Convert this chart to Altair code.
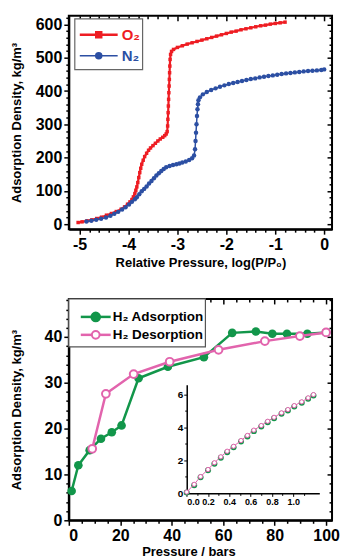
import altair as alt
import pandas as pd

FONT = "Liberation Sans"
RED = "#ee1d23"
BLUE = "#2c4fa3"
GREEN = "#12964a"
PINK = "#e264ad"

# ---------------- top panel: O2 / N2 isotherms ----------------
o2_logp = [-5.03, -4.95, -4.85, -4.75, -4.65, -4.55, -4.45, -4.35, -4.25, -4.15,
           -4.08, -4.02, -3.97, -3.93, -3.90, -3.87, -3.85, -3.83, -3.81, -3.79,
           -3.77, -3.75, -3.73, -3.70, -3.67, -3.63, -3.59, -3.55, -3.50, -3.45,
           -3.40, -3.35, -3.30, -3.26, -3.23, -3.21, -3.20, -3.195, -3.19, -3.185,
           -3.18, -3.175, -3.17, -3.165, -3.16, -3.155, -3.15, -3.14, -3.12, -3.08,
           -3.0, -2.9, -2.8, -2.7, -2.6, -2.5, -2.4, -2.3, -2.2, -2.1,
           -2.0, -1.9, -1.8, -1.7, -1.6, -1.5, -1.4, -1.3, -1.2, -1.1,
           -1.0, -0.9, -0.8]
o2_dens = [5, 7, 10, 13, 17, 21, 27, 32, 38, 45,
           52, 60, 67, 74, 82, 92, 102, 112, 125, 140,
           155, 168, 180, 192, 203, 213, 222, 229, 236, 243,
           250, 256, 261, 266, 271, 278, 295, 315, 335, 355,
           375, 395, 415, 435, 455, 475, 495, 510, 519, 525,
           531, 536, 541, 545, 549, 553, 557, 561, 565, 569,
           573, 577, 580, 584, 587, 590, 593, 596, 598, 601,
           603, 605, 607]

n2_logp = [-4.86, -4.76, -4.66, -4.56, -4.46, -4.37, -4.29, -4.21, -4.13, -4.06,
           -3.99, -3.93, -3.87, -3.83, -3.78, -3.73, -3.68, -3.63, -3.58, -3.53,
           -3.48, -3.43, -3.38, -3.33, -3.28, -3.23, -3.16, -3.09, -3.02, -2.96,
           -2.90, -2.83, -2.76, -2.70, -2.66, -2.64, -2.63, -2.62, -2.61, -2.60,
           -2.59, -2.58, -2.57, -2.54, -2.48, -2.40, -2.31, -2.22, -2.13, -2.04,
           -1.95, -1.86, -1.77, -1.68, -1.59, -1.50, -1.41, -1.32, -1.23, -1.14,
           -1.05, -0.96, -0.87, -0.78, -0.69, -0.60, -0.51, -0.42, -0.33, -0.24,
           -0.15, -0.06, 0.0]
n2_dens = [8, 10, 13, 16, 20, 25, 31, 37, 44, 51,
           59, 67, 75, 81, 90, 99, 106, 113, 122, 130,
           138, 146, 153, 160, 166, 171, 175, 178, 180, 182,
           185, 188, 193, 198, 206, 225, 250, 275, 300, 325,
           345, 360, 372, 381, 390, 397, 403, 408, 413, 417,
           421, 424, 427, 430, 433, 436, 438, 441, 443, 445,
           447, 449, 451, 453, 454, 456, 457, 459, 460, 461,
           462, 463, 465]

# ---------------- bottom panel: H2 ----------------
h2_ads_p = [1.1, 3.7, 8.1, 12.5, 16.7, 20.5, 27.1, 38.5, 52.5, 63.5, 72.7, 79.1, 84.8, 92.7, 100.0]
h2_ads_d = [6.4, 12.0, 15.3, 17.8, 19.2, 20.7, 31.0, 33.5, 35.6, 40.9, 41.2, 40.7, 40.7, 40.7, 41.0]
h2_des_p = [9.1, 14.4, 25.2, 39.2, 58.2, 76.2, 89.8, 100.0]
h2_des_d = [15.6, 27.6, 31.9, 34.6, 37.2, 39.1, 40.2, 41.0]

# inset (low pressure)
ins_p = [0.0, 0.07, 0.13, 0.2, 0.26, 0.32, 0.38, 0.44, 0.51, 0.57,
         0.63, 0.70, 0.76, 0.82, 0.89, 0.95, 1.01, 1.08, 1.14, 1.19]
ins_ads = [0.05, 0.5, 0.98, 1.4, 1.8, 2.17, 2.5, 2.8, 3.15, 3.46,
           3.78, 4.06, 4.32, 4.56, 4.83, 5.03, 5.27, 5.5, 5.75, 5.95]
ins_des = [0.08, 0.55, 1.02, 1.45, 1.86, 2.22, 2.56, 2.86, 3.21, 3.52,
           3.84, 4.12, 4.38, 4.62, 4.89, 5.09, 5.33, 5.56, 5.8, 6.0]

top_legend = ["O₂", "N₂"]
bottom_legend = ["H₂ Adsorption", "H₂ Desorption"]
y_title = "Adsorption Density, kg/m³"
top_x_title = "Relative Pressure, log(P/P₀)"
bottom_x_title = "Pressure / bars"

# tick values (major / minor)
top_x_major = [-5, -4, -3, -2, -1, 0]
top_x_minor = [round(-5 + 0.2 * i, 1) for i in range(26) if i % 5 != 0]
top_y_major = [0, 100, 200, 300, 400, 500, 600]
top_y_minor = [20 * i for i in range(32) if i % 5 != 0]
bot_x_major = [0, 20, 40, 60, 80, 100]
bot_x_minor = [5 * i for i in range(21) if i % 4 != 0]
bot_y_major = [0, 10, 20, 30, 40]
bot_y_minor = [2 * i for i in range(25) if i % 5 != 0]
ins_x_major = [0.0, 0.2, 0.4, 0.6, 0.8, 1.0]
ins_x_minor = [0.1, 0.3, 0.5, 0.7, 0.9, 1.1]
ins_y_major = [0, 2, 4, 6]
ins_y_minor = [1, 3, 5]

W, H1, H2 = 264, 214, 222
IX0, IX1 = 120.5 * W / 269, 256 * W / 269


def frame(x, y):
    return pd.DataFrame({"x": x, "y": y, "i": list(range(len(x)))})


def axis_layer(d, xsc, ysc, ch, **ax_kw):
    base = dict(grid=False, minExtent=0, maxExtent=0, labels=False, domain=False, title=None)
    base.update(ax_kw)
    ax = alt.Axis(**base)
    if ch == "x":
        enc = dict(x=alt.X("x:Q", scale=xsc, axis=ax), y=alt.Y("y:Q", scale=ysc, axis=None))
    else:
        enc = dict(x=alt.X("x:Q", scale=xsc, axis=None), y=alt.Y("y:Q", scale=ysc, axis=ax))
    return alt.Chart(d).mark_point(opacity=0).encode(**enc)


def panel_axes(d, xsc, ysc, xmaj, xmin, ymaj, ymin, xtitle, ytitle, xkw):
    return [
        axis_layer(d, xsc, ysc, "x", orient="bottom", values=xmin, tickSize=3),
        axis_layer(d, xsc, ysc, "y", orient="left", values=ymin, tickSize=3),
        axis_layer(d, xsc, ysc, "x", orient="top", values=xmaj, tickSize=5, offset=-5),
        axis_layer(d, xsc, ysc, "x", orient="top", values=xmin, tickSize=3, offset=-3),
        axis_layer(d, xsc, ysc, "y", orient="right", values=ymaj, tickSize=5, offset=-5),
        axis_layer(d, xsc, ysc, "y", orient="right", values=ymin, tickSize=3, offset=-3),
        axis_layer(d, xsc, ysc, "x", orient="bottom", values=xmaj, tickSize=5, labels=True, domain=True,
                   labelExpr="'' + datum.value", labelPadding=2, title=xtitle, minExtent=20,
                   maxExtent=200, **xkw),
        axis_layer(d, xsc, ysc, "y", orient="left", values=ymaj, tickSize=5, labels=True, domain=True,
                   labelExpr="'' + datum.value", labelPadding=2, title=ytitle, titlePadding=8,
                   minExtent=37, maxExtent=37),
    ]


one = pd.DataFrame({"k": [0]})


def box(x1, x2, y1, y2, stroke):
    return alt.Chart(one).mark_rect(fill="white", stroke=stroke, strokeWidth=1.2).encode(
        x=alt.value(x1), x2=alt.value(x2), y=alt.value(y1), y2=alt.value(y2))


def legend_row(yy, x1, x2, xm, xt, color, shape, fill, size, label, fsize, tcolor, lw):
    line = alt.Chart(one).mark_rule(color=color, strokeWidth=lw).encode(
        x=alt.value(x1), x2=alt.value(x2), y=alt.value(yy))
    pt = alt.Chart(one).mark_point(shape=shape, filled=True, fill=fill, stroke=color, strokeWidth=2,
                                    size=size, opacity=1).encode(x=alt.value(xm), y=alt.value(yy))
    txt = alt.Chart(one).mark_text(align="left", baseline="middle", font=FONT, fontWeight="bold",
                                   fontSize=fsize, color=tcolor, text=label).encode(
        x=alt.value(xt), y=alt.value(yy))
    return [line, pt, txt]


def series(d, xsc, ysc):
    return dict(x=alt.X("x:Q", scale=xsc, axis=None), y=alt.Y("y:Q", scale=ysc, axis=None))


# ================= top panel =================
o2 = frame(o2_logp, o2_dens)
n2 = frame(n2_logp, n2_dens)
xs1 = alt.Scale(domain=[-5.22, 0.16], nice=False, zero=False)
ys1 = alt.Scale(domain=[-15, 626], nice=False, zero=False)

o2_line = alt.Chart(o2).mark_line(color=RED, strokeWidth=2.2).encode(order="i:Q", **series(o2, xs1, ys1))
o2_pts = alt.Chart(o2).mark_square(color=RED, size=12, opacity=1).encode(x="x:Q", y="y:Q")
n2_line = alt.Chart(n2).mark_line(color=BLUE, strokeWidth=1.5).encode(x="x:Q", y="y:Q", order="i:Q")
n2_pts = alt.Chart(n2).mark_circle(color=BLUE, size=20, opacity=1).encode(x="x:Q", y="y:Q")

top_inner = [o2_line, o2_pts, n2_line, n2_pts, box(6, 74, 3, 54, "#666666")]
top_inner += legend_row(19, 11, 49, 30, 53, RED, "square", RED, 30, top_legend[0], 15, RED, 2.5)
top_inner += legend_row(40, 11, 49, 30, 53, BLUE, "circle", BLUE, 30, top_legend[1], 15, BLUE, 1.5)
top_main = alt.layer(*top_inner)

top = alt.layer(
    top_main,
    *panel_axes(o2, xs1, ys1, top_x_major, top_x_minor, top_y_major, top_y_minor,
                top_x_title, y_title, dict(titlePadding=4))
).resolve_scale(x="independent", y="independent").properties(width=W, height=H1)

# ================= bottom panel =================
ads = frame(h2_ads_p, h2_ads_d)
des = frame(h2_des_p, h2_des_d)
ia = frame(ins_p, ins_ads)
idd = frame(ins_p, ins_des)

xs2 = alt.Scale(domain=[0, 102.3], nice=False, zero=False)
ys2 = alt.Scale(domain=[0, 48.3], nice=False, zero=False)
xsi = alt.Scale(domain=[0, 1.245], range=[IX0, IX1], nice=False, zero=False)
ysi = alt.Scale(domain=[0, 6.6], range=[195, 86], nice=False, zero=False)

ads_line = alt.Chart(ads).mark_line(color=GREEN, strokeWidth=2.5).encode(order="i:Q", **series(ads, xs2, ys2))
ads_pts = alt.Chart(ads).mark_circle(color=GREEN, size=75, opacity=1).encode(x="x:Q", y="y:Q")
des_line = alt.Chart(des).mark_line(color=PINK, strokeWidth=2.5).encode(x="x:Q", y="y:Q", order="i:Q")
des_pts = alt.Chart(des).mark_point(shape="circle", filled=True, fill="white", stroke=PINK,
                                    strokeWidth=2, size=60, opacity=1).encode(x="x:Q", y="y:Q")

bot_inner = [ads_line, ads_pts, des_line, des_pts, box(0, 137, 0, 48, "#555555")]
bot_inner += legend_row(18, 12, 42, 27, 44, GREEN, "circle", GREEN, 75, bottom_legend[0], 13.5, "black", 2.5)
bot_inner += legend_row(36, 12, 42, 27, 44, PINK, "circle", "white", 60, bottom_legend[1], 13.5, "black", 2.5)
bot_main = alt.layer(*bot_inner)

ins_a_pts = alt.Chart(ia).mark_circle(color=GREEN, size=36, opacity=1).encode(**series(ia, xsi, ysi))
ins_d_line = alt.Chart(idd).mark_line(color=PINK, strokeWidth=1).encode(x="x:Q", y="y:Q", order="i:Q")
ins_d_pts = alt.Chart(idd).mark_point(shape="circle", filled=True, fill="white", stroke=PINK,
                                      strokeWidth=1, size=18, opacity=1).encode(x="x:Q", y="y:Q")
inset = alt.layer(ins_a_pts, ins_d_line, ins_d_pts)

inset_axes = [
    axis_layer(ia, xsi, ysi, "x", orient="bottom", offset=-27, values=ins_x_major, tickSize=3,
               labels=True, domain=True, format=".1f", labelFontSize=9, labelPadding=1,
               domainWidth=1.5, tickWidth=1),
    axis_layer(ia, xsi, ysi, "x", orient="bottom", offset=-27, values=ins_x_minor, tickSize=2, tickWidth=1),
    axis_layer(ia, xsi, ysi, "y", orient="left", offset=-IX0, values=ins_y_major, tickSize=3,
               labels=True, domain=True, labelExpr="'' + datum.value", labelFontSize=10, labelPadding=1,
               domainWidth=1.5, tickWidth=1),
    axis_layer(ia, xsi, ysi, "y", orient="left", offset=-IX0, values=ins_y_minor, tickSize=2, tickWidth=1),
]

bottom = alt.layer(
    bot_main, inset, *inset_axes,
    *panel_axes(ads, xs2, ys2, bot_x_major, bot_x_minor, bot_y_major, bot_y_minor,
                bottom_x_title, y_title, dict(titlePadding=2, titleX=120))
).resolve_scale(x="independent", y="independent").properties(width=W, height=H2)

chart = alt.vconcat(top, bottom, spacing=27).properties(
    padding={"left": 2, "top": 5, "right": 0, "bottom": 0}
).configure_axis(
    domainColor="black", domainWidth=2, tickColor="black", tickWidth=1.5,
    labelFont=FONT, labelFontWeight="bold", labelFontSize=16, labelColor="black", labelOverlap=False,
    titleFont=FONT, titleFontWeight="bold", titleFontSize=13, titleColor="black", grid=False
).configure_view(stroke="black", strokeWidth=2)

chart.save("out.html", embed_options={"renderer": "svg", "actions": False})
